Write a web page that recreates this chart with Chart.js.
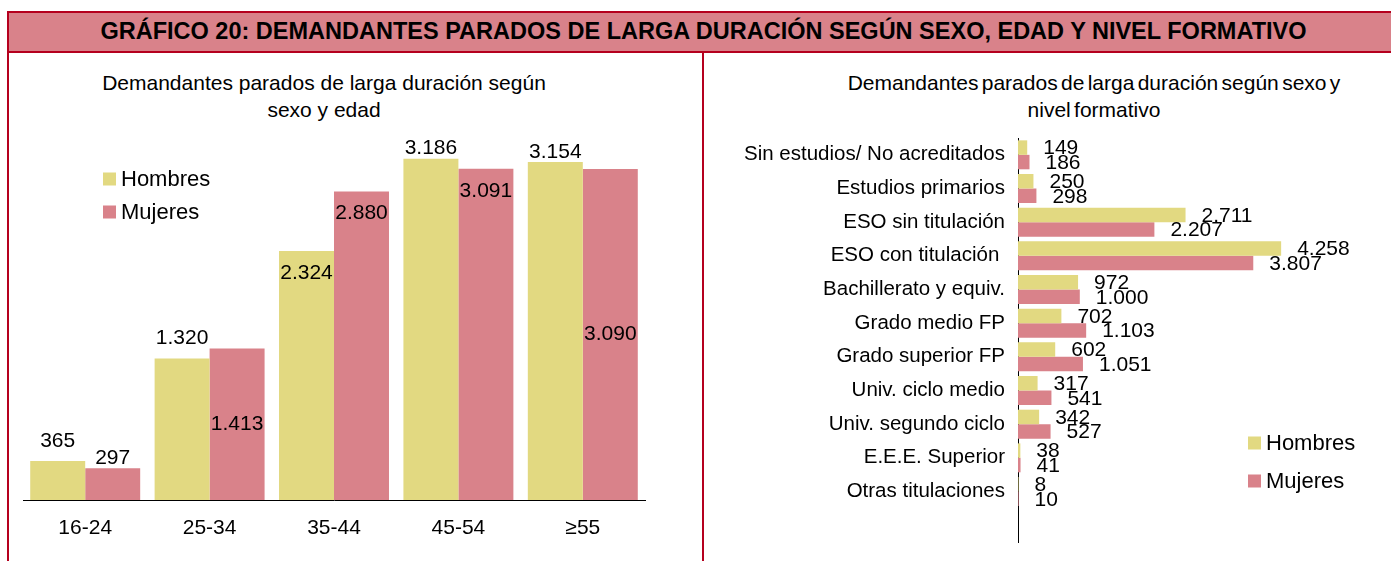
<!DOCTYPE html>
<html lang="es">
<head>
<meta charset="utf-8">
<title>Gráfico 20</title>
<script src="https://cdn.jsdelivr.net/npm/chart.js@4"></script>
<style>
  html, body { margin: 0; padding: 0; background: #fff; overflow: hidden; }
  body { width: 1391px; height: 561px; position: relative; font-family: "Liberation Sans", Arial, sans-serif; color: #000; }
  .header-box { position: absolute; left: 7px; top: 11px; width: 1400px; height: 42px; box-sizing: border-box;
    background: #d9828a; border: 2px solid #b5001e; border-right: none; }
  .header-text { position: absolute; left: 8px; top: 18px; width: 1391px; text-align: center;
    font-weight: bold; font-size: 23.5px; line-height: 26px; white-space: nowrap; }
  .vline { position: absolute; width: 2px; background: #b5001e; }
  .subtitle { position: absolute; text-align: center; font-size: 21px; line-height: 27px; white-space: nowrap; }
  canvas { position: absolute; }
</style>
</head>
<body>
<div class="header-box"></div>
<div class="header-text">GRÁFICO 20: DEMANDANTES PARADOS DE LARGA DURACIÓN SEGÚN SEXO, EDAD Y NIVEL FORMATIVO</div>
<div class="vline" style="left:7px; top:52px; height:509px;"></div>
<div class="vline" style="left:702px; top:52px; height:509px;"></div>

<div class="subtitle" style="left:24px; top:69px; width:600px;">Demandantes parados de larga duración según<br>sexo y edad</div>
<div class="subtitle" style="left:794px; top:69px; width:600px; word-spacing:-2.5px;">Demandantes parados de larga duración según sexo y<br>nivel formativo</div>

<canvas id="edadChart" width="693" height="508" style="left:9px; top:53px;"></canvas>
<canvas id="nivelChart" width="687" height="508" style="left:704px; top:53px;"></canvas>

<script>
// datos: edad
const edadLabels = ['16-24', '25-34', '35-44', '45-54', '\u226555'];
const edadHombres = [365, 1320, 2324, 3186, 3154];
const edadMujeres = [297, 1413, 2880, 3091, 3090];

// datos: nivel formativo (la última fila va vacía, como en el original)
const nivelLabels = [
  'Sin estudios/ No acreditados', 'Estudios primarios', 'ESO sin titulación', 'ESO con titulación ',
  'Bachillerato y equiv.', 'Grado medio FP', 'Grado superior FP', 'Univ. ciclo medio',
  'Univ. segundo ciclo', 'E.E.E. Superior', 'Otras titulaciones', ''
];
const nivelHombres = [149, 250, 2711, 4258, 972, 702, 602, 317, 342, 38, 8, null];
const nivelMujeres = [186, 298, 2207, 3807, 1000, 1103, 1051, 541, 527, 41, 10, null];

const colorHombres = '#e2d981';
const colorMujeres = '#d9828a';
const fontFamily = '"Liberation Sans", Arial, sans-serif';

// dónde va cada etiqueta del gráfico de edad
const posHombres = ['far', 'far', 'in', 'out', 'out'];
const posMujeres = ['out', 'mid', 'in', 'in', 'mid'];

function formatNum(v) {
  return String(v).replace(/\B(?=(\d{3})+(?!\d))/g, '.');
}

// etiquetas de valor
const valueLabels = {
  id: 'valueLabels',
  afterDatasetsDraw(chart, args, opts) {
    const ctx = chart.ctx;
    ctx.save();
    ctx.font = opts.size + 'px ' + fontFamily;
    ctx.fillStyle = '#000';
    chart.data.datasets.forEach((ds, i) => {
      const meta = chart.getDatasetMeta(i);
      meta.data.forEach((bar, j) => {
        const v = ds.data[j];
        if (v == null) return;
        const text = formatNum(v);
        if (opts.horizontal) {
          ctx.textAlign = 'left';
          ctx.textBaseline = 'middle';
          ctx.fillText(text, bar.x + opts.gap, bar.y + 1);
        } else {
          ctx.textAlign = 'center';
          ctx.textBaseline = 'middle';
          const pos = ds.labelPos[j];
          let y;
          if (pos === 'mid') y = (bar.y + bar.base) / 2;
          else if (pos === 'in') y = bar.y + 22;
          else if (pos === 'far') y = bar.y - 20;
          else y = bar.y - 10;
          ctx.fillText(text, bar.x, y);
        }
      });
    });
    ctx.restore();
  }
};

// leyenda con cuadritos, colocada a mano
const boxLegend = {
  id: 'boxLegend',
  afterDraw(chart, args, opts) {
    const ctx = chart.ctx;
    ctx.save();
    ctx.font = opts.size + 'px ' + fontFamily;
    ctx.textAlign = 'left';
    ctx.textBaseline = 'middle';
    chart.data.datasets.forEach((ds, i) => {
      const cy = opts.y + i * opts.spacing;
      ctx.fillStyle = ds.backgroundColor;
      ctx.fillRect(opts.x, cy - 6.5, 13, 13);
      ctx.fillStyle = '#000';
      ctx.fillText(ds.label, opts.x + 18, cy + 1);
    });
    ctx.restore();
  }
};

Chart.defaults.font.family = fontFamily;
Chart.defaults.color = '#000';

new Chart(document.getElementById('edadChart'), {
  type: 'bar',
  data: {
    labels: edadLabels,
    datasets: [
      { label: 'Hombres', data: edadHombres, backgroundColor: colorHombres, labelPos: posHombres },
      { label: 'Mujeres', data: edadMujeres, backgroundColor: colorMujeres, labelPos: posMujeres }
    ]
  },
  options: {
    responsive: false,
    animation: false,
    layout: { padding: { left: 14, right: 57, top: 72, bottom: 0 } },
    datasets: { bar: { categoryPercentage: 0.884, barPercentage: 1 } },
    scales: {
      x: {
        grid: { display: false, drawTicks: false },
        border: { display: true, color: '#000', width: 1 },
        ticks: { font: { size: 21 }, padding: 16, maxRotation: 0, autoSkip: false },
        afterFit(scale) { scale.height = 61; }
      },
      y: { display: false, min: 0, max: 3500 }
    },
    plugins: {
      legend: { display: false },
      tooltip: { enabled: false },
      valueLabels: { size: 21 },
      boxLegend: { x: 94, y: 126, spacing: 33, size: 22 }
    }
  },
  plugins: [valueLabels, boxLegend]
});

new Chart(document.getElementById('nivelChart'), {
  type: 'bar',
  data: {
    labels: nivelLabels,
    datasets: [
      { label: 'Hombres', data: nivelHombres, backgroundColor: colorHombres },
      { label: 'Mujeres', data: nivelMujeres, backgroundColor: colorMujeres }
    ]
  },
  options: {
    indexAxis: 'y',
    responsive: false,
    animation: false,
    layout: { padding: { left: 0, right: 64, top: 85, bottom: 19 } },
    datasets: { bar: { categoryPercentage: 0.86, barPercentage: 1 } },
    scales: {
      x: { display: false, min: 0, max: 5000 },
      y: {
        grid: { display: false, drawTicks: false },
        border: { display: true, color: '#000', width: 1 },
        ticks: { font: { size: 20.5 }, padding: 13, autoSkip: false },
        afterFit(scale) {
          scale.width = 314;
          // sin margen extra por las etiquetas de los extremos
          scale.paddingTop = 0;
          scale.paddingBottom = 0;
        }
      }
    },
    plugins: {
      legend: { display: false },
      tooltip: { enabled: false },
      valueLabels: { size: 21, horizontal: true, gap: 16 },
      boxLegend: { x: 544, y: 390, spacing: 38, size: 22 }
    }
  },
  plugins: [valueLabels, boxLegend]
});
</script>
</body>
</html>
